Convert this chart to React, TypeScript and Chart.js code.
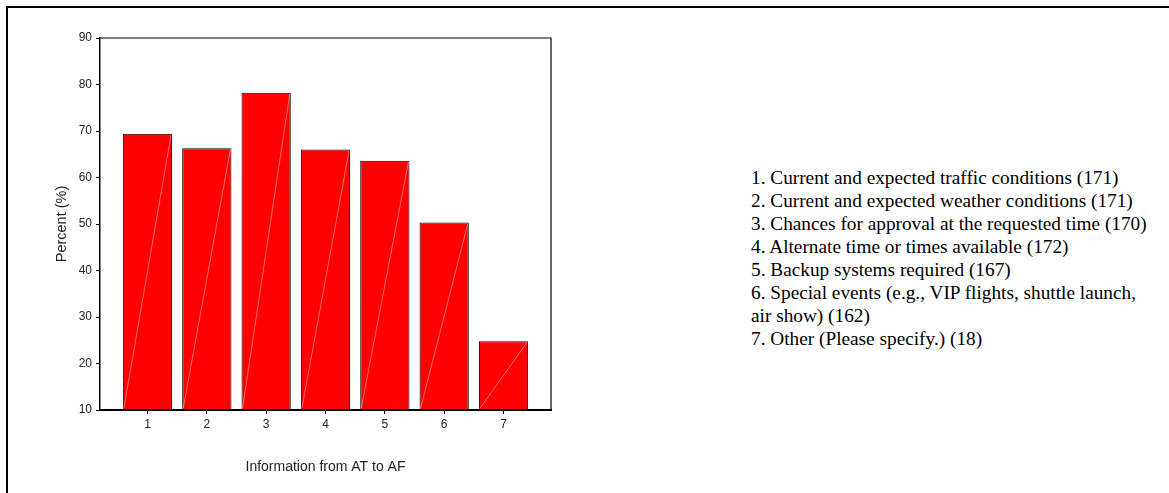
import React, { useEffect, useRef } from 'react';
import { Chart, registerables } from 'chart.js';

Chart.register(...registerables);

const categories = ['1', '2', '3', '4', '5', '6', '7'];
const percents = [69.4, 66.3, 78.2, 66.0, 63.6, 50.3, 24.8];
const yTicks = [10, 20, 30, 40, 50, 60, 70, 80, 90];
const yTitle = 'Percent (%)';
const xTitle = 'Information from AT to AF';
const legendItems = [
  '1. Current and expected traffic conditions (171)',
  '2. Current and expected weather conditions (171)',
  '3. Chances for approval at the requested time (170)',
  '4. Alternate time or times available (172)',
  '5. Backup systems required (167)',
  '6. Special events (e.g., VIP flights, shuttle launch,\nair show) (162)',
  '7. Other (Please specify.) (18)',
];

const SANS = "'Liberation Sans', Arial, sans-serif";
const SERIF = "'Liberation Serif', 'Times New Roman', serif";

const diagPlugin = {
  id: 'diagLines',
  afterDatasetsDraw(chart: any) {
    const ctx = chart.ctx;
    const meta = chart.getDatasetMeta(0);
    ctx.save();
    meta.data.forEach((bar: any) => {
      const { x, y, base, width } = bar.getProps(['x', 'y', 'base', 'width'], true);
      ctx.beginPath();
      ctx.moveTo(x - width / 2 + 1, base - 1);
      ctx.lineTo(x + width / 2 - 1, y + 1);
      ctx.strokeStyle = 'rgba(255,185,185,0.75)';
      ctx.lineWidth = 0.8;
      ctx.stroke();
    });
    ctx.restore();
  },
};

const framePlugin = {
  id: 'frameLines',
  afterDraw(chart: any) {
    const { ctx, chartArea } = chart;
    ctx.save();
    ctx.strokeStyle = '#000';
    ctx.lineWidth = 1.2;
    ctx.beginPath();
    ctx.moveTo(chartArea.left, chartArea.top);
    ctx.lineTo(chartArea.right, chartArea.top);
    ctx.lineTo(chartArea.right, chartArea.bottom);
    ctx.stroke();
    ctx.restore();
  },
};

export default function App() {
  const canvasRef = useRef<HTMLCanvasElement | null>(null);

  useEffect(() => {
    if (!canvasRef.current) return;
    const chart = new Chart(canvasRef.current, {
      type: 'bar',
      data: {
        datasets: [
          {
            data: categories.map((c, i) => ({ x: i + 1, y: percents[i] })),
            backgroundColor: '#ff0000',
            borderColor: '#000000',
            borderWidth: 1,
            base: 10,
            barPercentage: 0.83,
            categoryPercentage: 1,
          } as any,
        ],
      },
      options: {
        responsive: false,
        animation: false,
        layout: { padding: { top: 38, right: 14, left: 0, bottom: 0 } },
        plugins: { legend: { display: false }, tooltip: { enabled: false } },
        scales: {
          x: {
            type: 'linear',
            offset: false,
            min: 0.2,
            max: 7.8,
            afterBuildTicks: (s: any) => {
              s.ticks = categories.map((_, i) => ({ value: i + 1 }));
            },
            afterFit: (s: any) => {
              s.height = 70;
            },
            ticks: {
              autoSkip: false,
              maxRotation: 0,
              padding: 3,
              color: '#222',
              font: { family: SANS, size: 12 },
              callback: (_v: any, i: number) => categories[i],
            },
            grid: { display: true, drawOnChartArea: false, drawTicks: true, tickLength: 4, color: '#000', offset: false },
            border: { display: true, color: '#000', width: 2 },
            title: {
              display: true,
              text: xTitle,
              color: '#222',
              font: { family: SANS, size: 14 },
              padding: { top: 4, bottom: 4 },
            },
          },
          y: {
            min: 10,
            max: 90,
            afterBuildTicks: (s: any) => {
              s.ticks = yTicks.map((v) => ({ value: v }));
            },
            afterFit: (s: any) => {
              s.width = 51;
            },
            ticks: {
              padding: 4,
              color: '#222',
              font: { family: SANS, size: 12 },
              callback: (_v: any, i: number) => String(yTicks[i]),
            },
            grid: { display: true, drawOnChartArea: false, drawTicks: true, tickLength: 4, color: '#000' },
            border: { display: true, color: '#000', width: 1.5 },
            title: {
              display: true,
              text: yTitle,
              color: '#222',
              font: { family: SANS, size: 14.5 },
              padding: { top: 4, bottom: 4 },
            },
          },
        },
      } as any,
      plugins: [diagPlugin, framePlugin],
    });
    return () => chart.destroy();
  }, []);

  return (
    <div
      style={{
        position: 'fixed',
        left: 0,
        top: 0,
        width: 1169,
        height: 493,
        background: '#fff',
        overflow: 'hidden',
      }}
    >
      <div
        style={{
          position: 'absolute',
          left: 6,
          top: 6,
          width: 1200,
          height: 500,
          borderTop: '2px solid #000',
          borderLeft: '2px solid #000',
          boxSizing: 'border-box',
        }}
      />
      <canvas
        ref={canvasRef}
        width={516}
        height={480}
        style={{ position: 'absolute', left: 49, top: 0, width: 516, height: 480 }}
      />
      <div
        style={{
          position: 'absolute',
          left: 751,
          top: 166,
          fontFamily: SERIF,
          fontSize: 19.3,
          lineHeight: '23px',
          color: '#000',
          whiteSpace: 'pre',
        }}
      >
        {legendItems.map((t) => (
          <div key={t}>{t}</div>
        ))}
      </div>
    </div>
  );
}
